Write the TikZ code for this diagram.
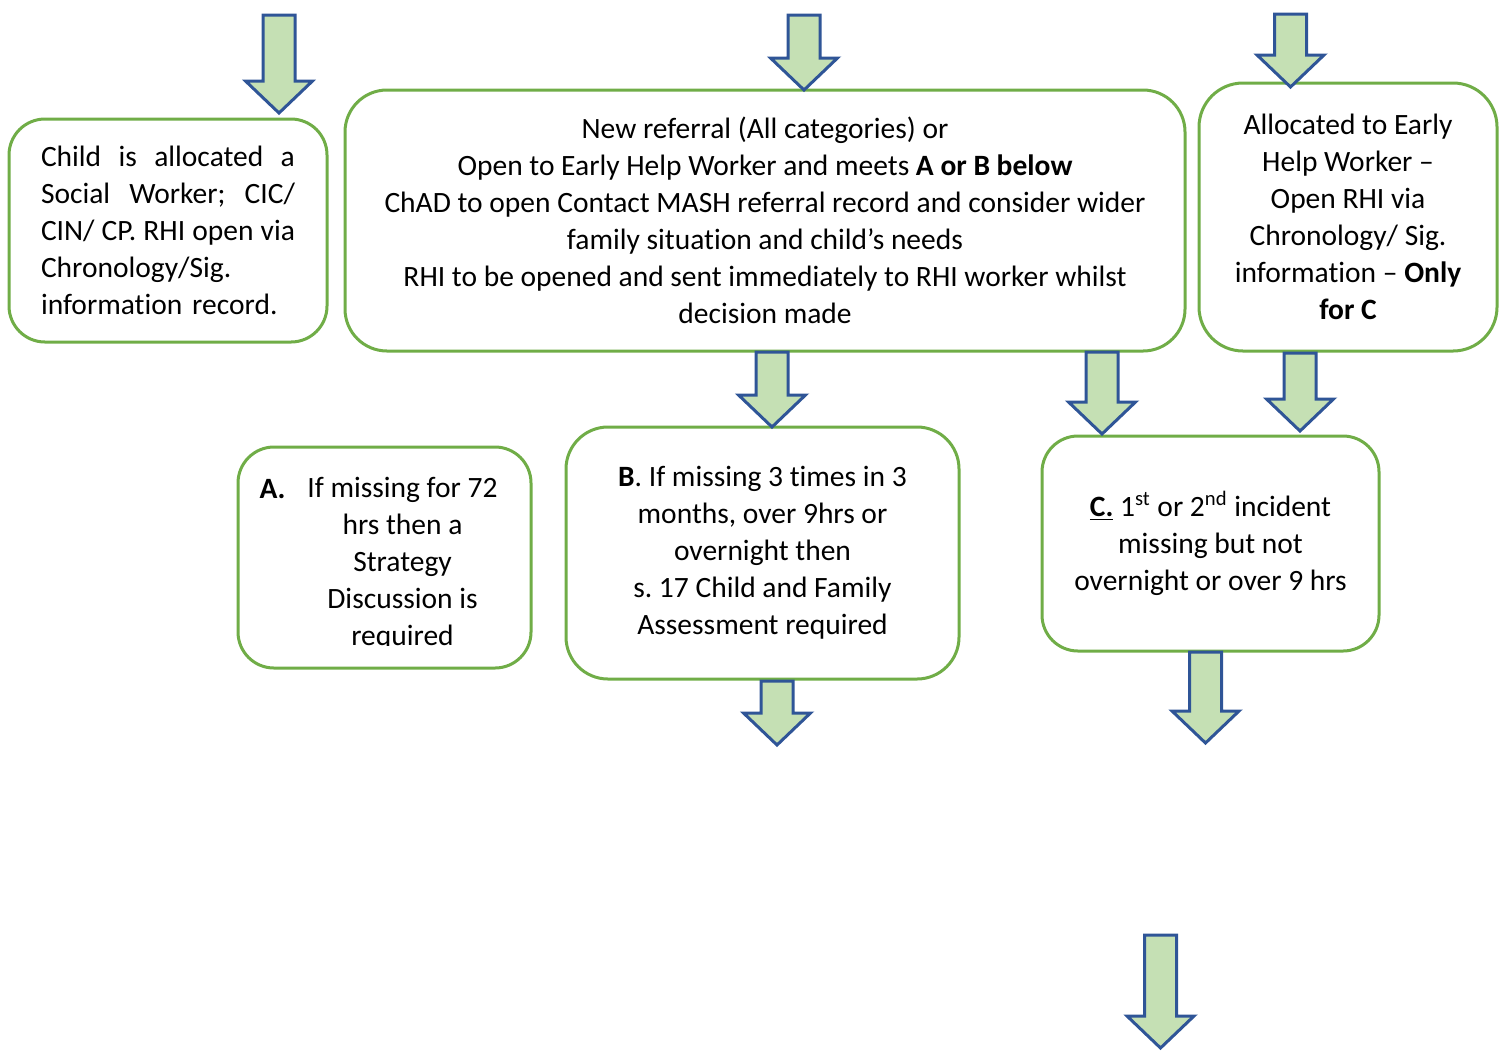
\documentclass[tikz,border=0pt]{standalone}
\usepackage{fontspec}
\setmainfont{Carlito}[Ligatures={TeX,NoCommon}]
\definecolor{boxgreen}{HTML}{70AD47}
\definecolor{arrowfill}{HTML}{C5E0B4}
\definecolor{arrowline}{HTML}{2F5597}
% one justified line of the left box
\newcommand\fullline[1]{\hbox to 127pt{\spaceskip=.226em plus 1fil minus .1em\relax #1}}
\begin{document}
\begin{tikzpicture}[x=0.5pt,y=-0.5pt,
    box/.style={draw=boxgreen,line width=1.5pt,fill=white,inner sep=0pt,
      align=center,font=\fontsize{14.75}{18.5}\selectfont\frenchspacing},
    txt/.style={inner sep=0pt,align=center,
      font=\fontsize{14.75}{18.5}\selectfont\frenchspacing},
    pics/downblk/.style={code={
      \draw[arrowline,line width=1.5pt,fill=arrowfill]
        (-16,0) -- (16,0) -- (16,#1-32) -- (33.5,#1-32) -- (0,#1)
        -- (-33.5,#1-32) -- (-16,#1-32) -- cycle;}}]
  \useasboundingbox (0,0) rectangle (1502,1051);
  % top row
  \node[box,minimum width=159pt,minimum height=111.5pt,rounded corners=18pt,
        text width=127pt,align=left] (social) at (168,230.5)
    {\fullline{Child is allocated a}
     \fullline{Social Worker; CIC/}
     \fullline{CIN/ CP. RHI open via}
     Chronology/Sig.\\
     information record.};
  \node[box,minimum width=420pt,minimum height=130.5pt,rounded corners=21pt]
    (referral) at (765,220.5)
    {New referral (All categories) or\\
     Open to Early Help Worker and meets \textbf{A or B below}\\
     ChAD to open Contact MASH referral record and consider wider\\
     family situation and child's needs\\
     RHI to be opened and sent immediately to RHI worker whilst\\
     decision made};
  \node[box,minimum width=149pt,minimum height=134pt,rounded corners=22pt]
    (earlyhelp) at (1348,217)
    {Allocated to Early\\
     Help Worker --\\
     Open RHI via\\
     Chronology/ Sig.\\
     information -- \textbf{Only}\\
     \textbf{for C}};
  % second row
  \node[box,minimum width=146.5pt,minimum height=110.5pt,rounded corners=18pt]
    (casea) at (384.5,557.5) {};
  \begin{scope}
    \clip (240,449) rectangle (529,645);
    \node[txt] (texta) at (402.5,564)
      {If missing for 72\\ hrs then a\\ Strategy\\ Discussion is\\ required};
  \end{scope}
  \node[txt,anchor=base] (labela) at (272.5,498) {\textbf{A.}};
  \node[box,minimum width=196.5pt,minimum height=126pt,rounded corners=21pt]
    (caseb) at (762.5,553)
    {\textbf{B}. If missing 3 times in 3\\
     months, over 9hrs or\\
     overnight then\\
     s. 17 Child and Family\\
     Assessment required};
  \node[box,minimum width=168.5pt,minimum height=107.5pt,rounded corners=18pt]
    (casec) at (1210.5,543.5)
    {\underline{\textbf{C.}} 1\textsuperscript{st} or 2\textsuperscript{nd} incident\\
     missing but not\\
     overnight or over 9 hrs};
  % block arrows
  \pic (arrsocial) at (279,15) {downblk=98};
  \pic (arrreferral) at (804,15) {downblk=75};
  \pic (arrearly) at (1290.5,14) {downblk=73};
  \pic (arrb) at (772,352) {downblk=75};
  \pic (arrc) at (1102,352) {downblk=82};
  \pic (arrcc) at (1300,353) {downblk=78};
  \pic (arrbout) at (777,681) {downblk=64};
  \pic (arrcout) at (1205.5,652) {downblk=91};
  \pic (arrlast) at (1160.5,935) {downblk=113};
\end{tikzpicture}
\end{document}
